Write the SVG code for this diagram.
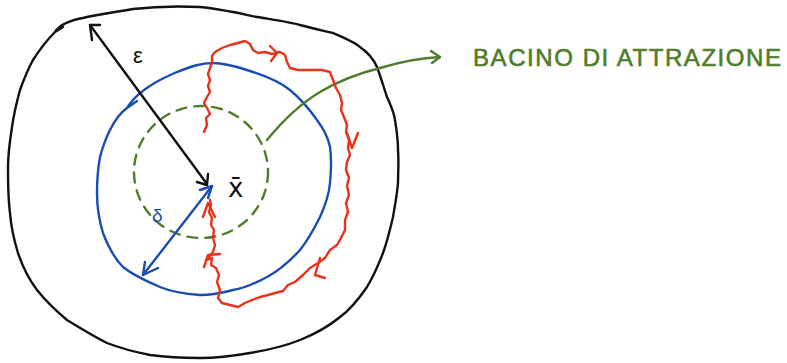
<svg xmlns="http://www.w3.org/2000/svg" width="787" height="363" viewBox="0 0 787 363">
<style>
.s{fill:none;stroke-width:2.4;stroke-linecap:round;stroke-linejoin:round}
.k{stroke:#111}
.b{stroke:#1a4db3}
.g{stroke:#4f7d2b}
.r{stroke:#e8321a}
.lbl{font-family:"Liberation Sans",sans-serif}
</style>
<rect width="787" height="363" fill="#fff"/>
<g id="outer-region">
<path class="s k" d="M55,32 L63,27 M55,32 C60,24 72,20 83,18 C95,15 110,13 133,9 C150,7 180,6 200,7 C215,8 225,11 233,12 C245,14 250,16 257,17 C275,20 290,22 300,25 C315,29 325,31 333,33 C345,38 355,42 360,47 C370,54 374,60 377,67 C381,78 384,88 387,97 C391,106 394,112 395,120 C397,132 398,140 398,150 C399,162 398,172 398,183 C397,195 395,205 393,217 C390,230 387,242 383,253 C378,266 373,277 367,287 C358,300 350,310 340,317 C328,327 315,334 300,340 C285,346 268,350 250,353 C233,356 218,358 200,358 C183,358 165,357 150,355 C135,352 120,348 107,343 C93,336 80,328 67,320 C55,310 45,300 37,290 C28,278 22,265 18,253 C14,240 11,226 10,213 C8,198 8,182 8,167 C8,153 10,140 12,127 C14,113 17,101 20,90 C24,79 28,69 33,60 C40,49 47,40 55,32"/>
</g>
<g id="delta-neighbourhood">
<path class="s b" d="M127,108 L137,101 M127,108 C133,98 145,88 160,80 C170,75 172,74 177,72 C190,67 200,63 213,63 C228,63 240,68 253,72 C265,76 280,82 290,90 C302,100 310,110 317,120 C323,128 328,137 330,147 C332,160 331,172 330,183 C329,195 325,206 320,217 C314,229 308,240 300,250 C290,261 280,270 267,277 C256,283 245,288 233,290 C222,293 211,295 200,295 C186,294 172,292 160,287 C146,281 133,275 123,267 C114,258 108,246 103,233 C99,220 97,207 97,193 C97,180 98,168 100,157 C103,146 106,138 110,130 C115,120 120,113 127,108"/>
</g>
<g id="basin">
<ellipse class="s g" cx="201" cy="172" rx="67" ry="66" stroke-dasharray="10 8"/>
</g>
<g id="connectors">
<path class="s g" d="M267,140 C285,118 300,104 320,92 C340,80 360,73 380,68 C400,62 420,58 440,57"/>
<path class="s g" d="M431,51 L440,57 L432,63"/>
<path class="s k" d="M90,25 L207,184"/>
<path class="s k" d="M92,40 L90,25 L100,25"/>
<path class="s k" d="M208,174 L207,185 L197,182"/>
<path class="s b" d="M143,275 L212,186"/>
<path class="s b" d="M145,262 L143,275 L158,268"/>
<path class="s b" d="M200,190 L212,186 L208,198"/>
<path class="s r" d="M204,132 L207,125 L206,118 L210,114 L207,108 L204,103 L207,97 L210,92 L208,86 L210,80 L208,74 L210,68 L212,62 L212,56 L215,52 L222,48 L230,45 L238,43 L245,41 L250,44 L253,50 L258,53 L265,52 L272,54 L280,52 L285,55 L287,62 L290,68 L298,70 L310,70 L322,70 L330,72 L333,80 L336,88 L340,95 L342,103 L341,110 L344,117 L347,125 L346,132 L349,140 L348,148 L350,155 L347,162 L346,170 L349,178 L347,186 L349,195 L346,203 L348,212 L345,220 L345,230 L341,238 L337,245 L330,250 L325,258 L318,263 L310,268 L303,275 L295,282 L288,285 L283,291 L275,293 L268,295 L260,297 L252,300 L245,303 L238,307 L230,305 L222,303 L218,298 L220,290 L217,282 L219,275 L216,268 L211,265 L212,258 L206,260 L213,252 L215,245 L213,238 L214,230 L211,225 L212,218 L209,212 L211,205 L210,200"/>
<path class="s r" d="M270,46 L277,53 L271,61"/>
<path class="s r" d="M347,133 L352,148 L358,133"/>
<path class="s r" d="M320,258 L315,275 L325,278"/>
<path class="s r" d="M220,254 L208,255 L204,267"/>
<path class="s r" d="M203,217 L208,203 L215,217"/>
</g>
<g id="labels">
<text class="lbl" x="133" y="63" font-size="22" fill="#111">ε</text>
<text class="lbl" x="152" y="222" font-size="19" fill="#1a4db3">δ</text>
<text x="228" y="197" font-size="26" fill="#111" font-family="DejaVu Sans, sans-serif">x̄</text>
<text class="lbl" x="473" y="66" font-size="24" fill="#4f7d2b" stroke="#4f7d2b" stroke-width="0.6" textLength="308" lengthAdjust="spacing">BACINO DI ATTRAZIONE</text>
</g>
</svg>
